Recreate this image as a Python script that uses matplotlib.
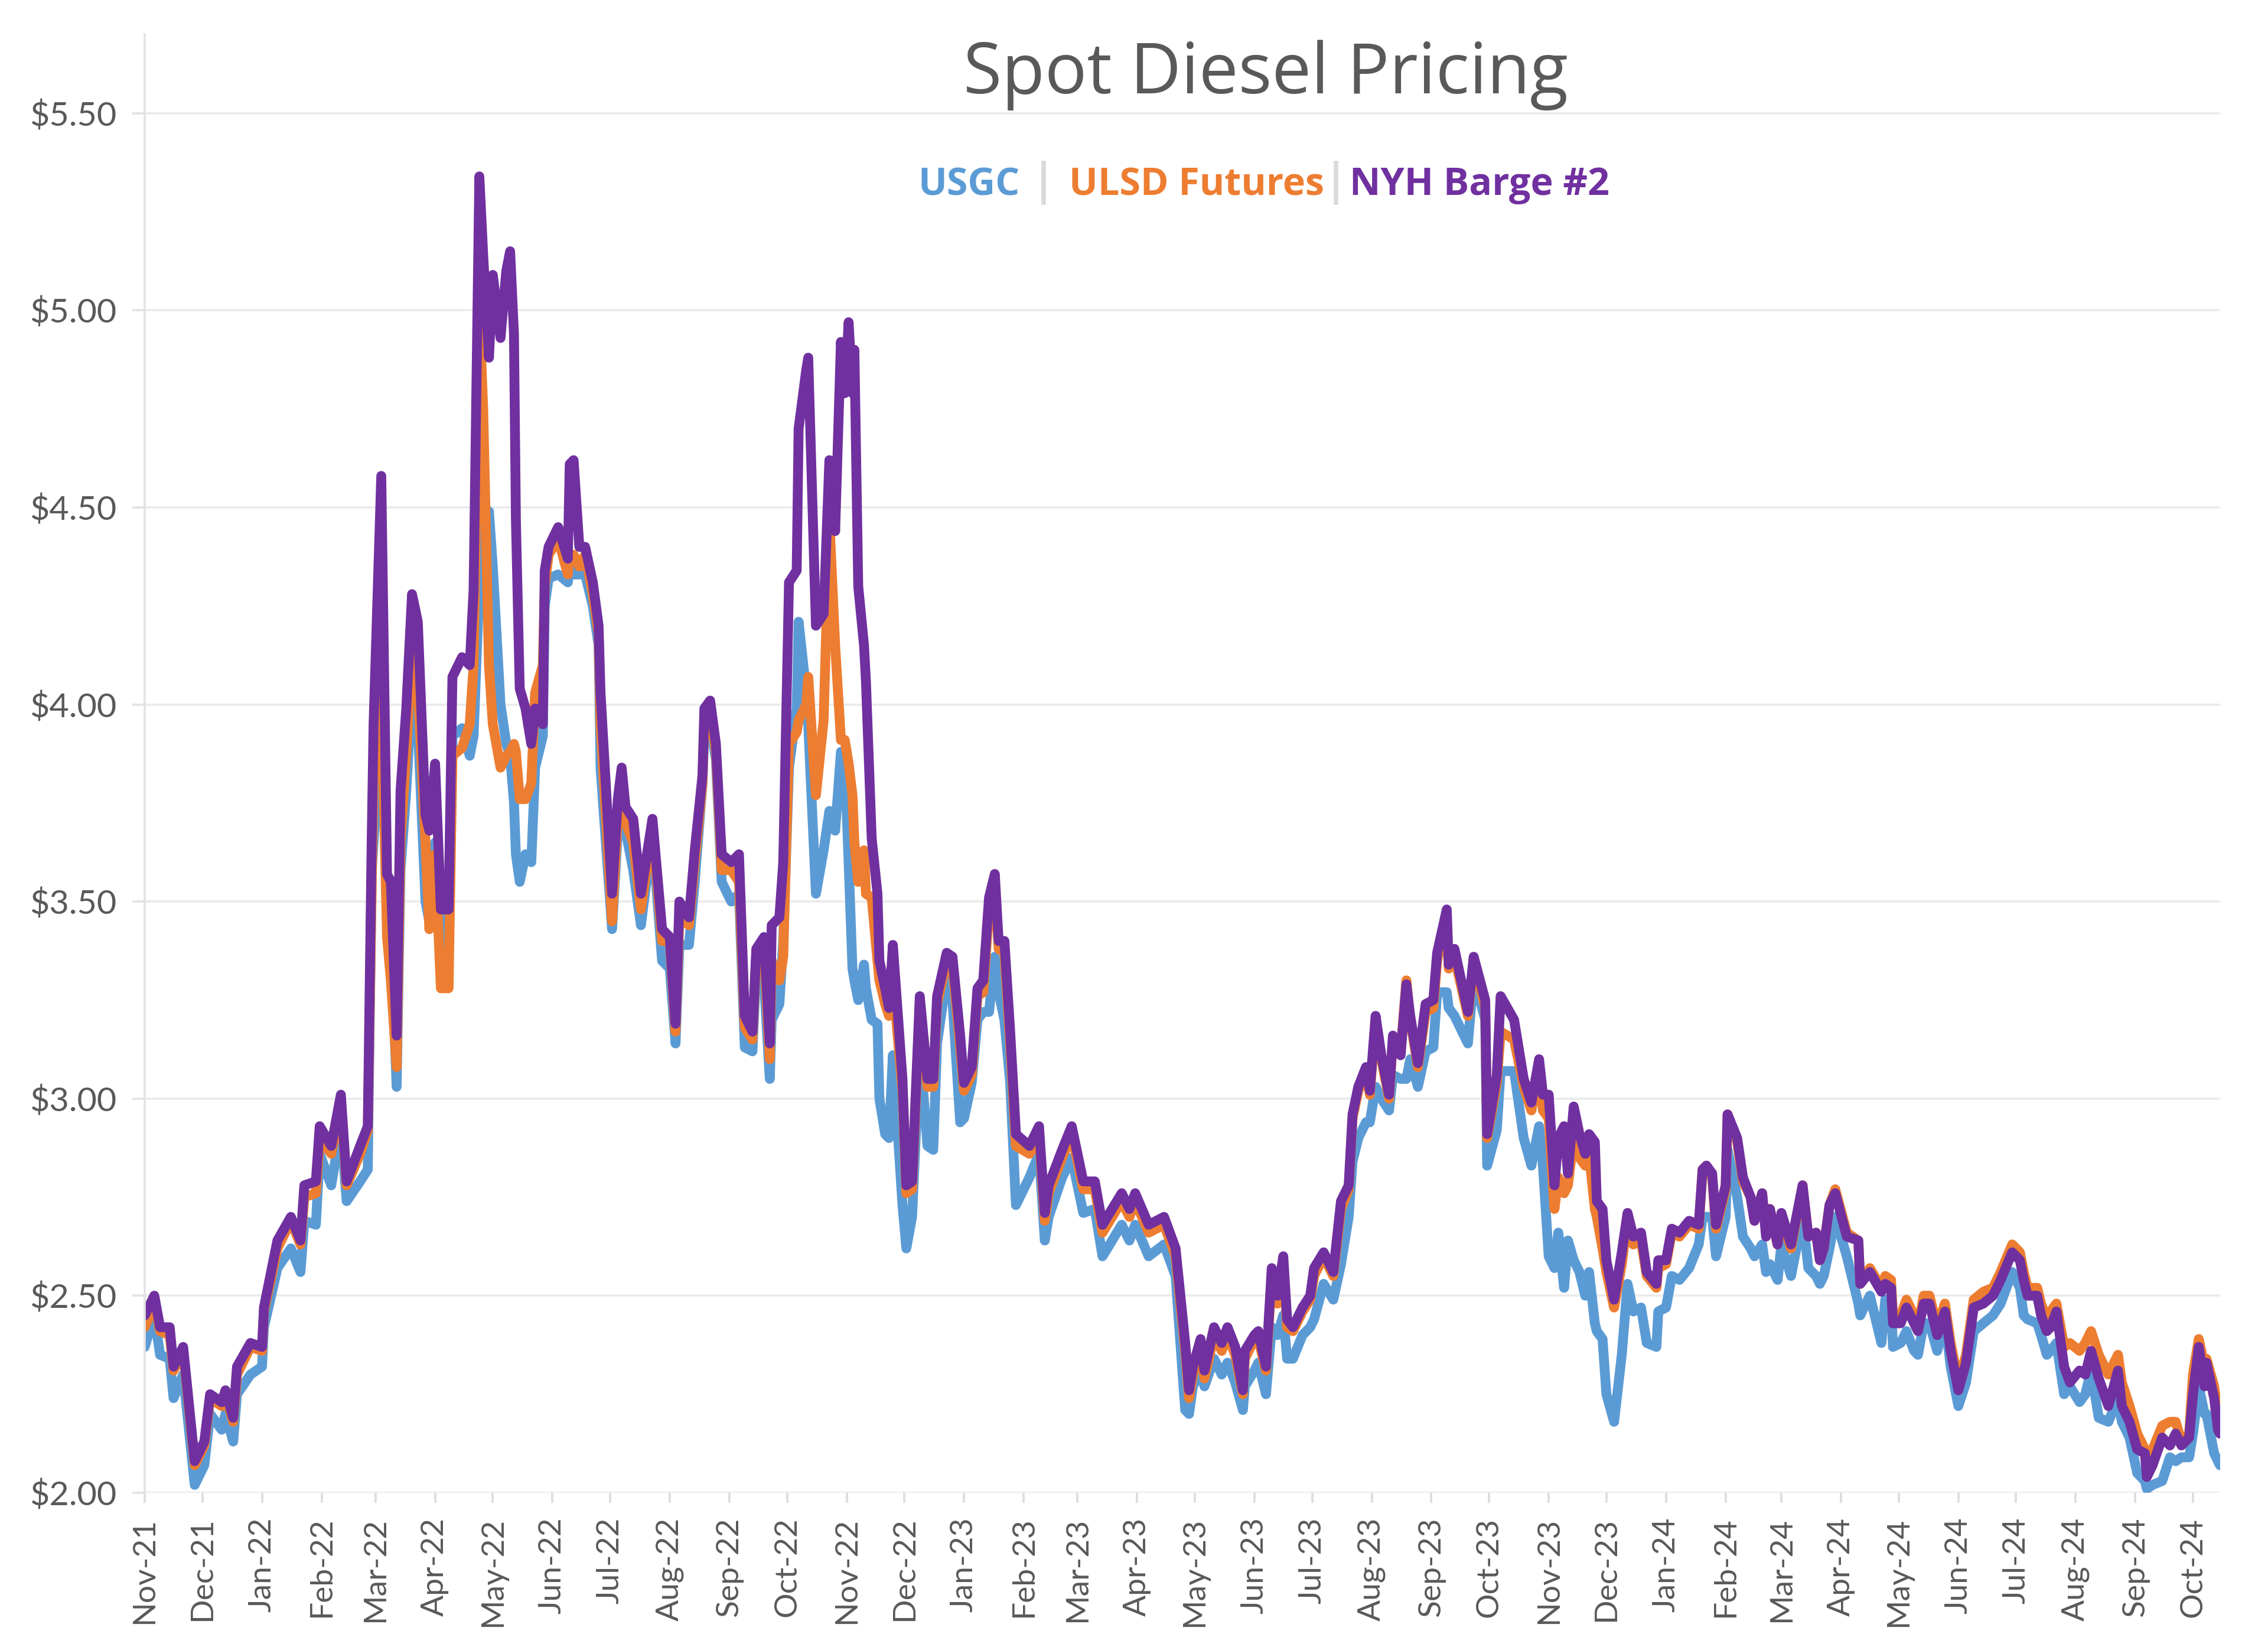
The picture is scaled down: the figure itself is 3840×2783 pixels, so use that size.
import matplotlib
matplotlib.use("Agg")
import matplotlib.pyplot as plt
import matplotlib.dates as mdates
from matplotlib.lines import Line2D
import numpy as np
import pandas as pd

# days counted from 1 Nov 2021, values in $/gal
start = pd.Timestamp("2021-11-01")

day = [0, 5, 8, 13, 15, 20, 26, 31, 34, 40,
       42, 46, 48, 55, 61, 62, 69, 76, 81, 83,
       89, 91, 97, 102, 105, 112, 116, 118, 119, 123,
       126, 128, 131, 133, 136, 139, 142, 146, 148, 151,
       154, 158, 160, 165, 169, 171,
       # May 2022 - Apr 2023
       174, 176, 179, 181, 185, 188, 190, 192, 193, 195,
       198, 201, 203, 207, 208, 210, 215, 220, 221, 223,
       226, 229, 233, 236, 237, 243, 246, 248, 250, 254,
       258, 264, 269, 273, 276, 278, 283, 286, 290, 291,
       294, 297, 300, 305, 309, 312, 316, 318, 322, 325,
       326, 330, 332, 335, 339, 340, 344, 345, 349, 353,
       356, 359, 362, 364, 366, 368, 369, 371, 374, 375,
       378, 381, 382, 385, 387, 389, 394, 396, 399, 403,
       407, 410, 412, 417, 420, 424, 426, 430, 433, 436,
       439, 442, 444, 447, 450, 453, 460, 465, 468, 470,
       477, 482, 488, 494, 498, 508, 512, 515, 522, 530,
       536,
       # late Apr 2023 - Oct 2023
       541, 543, 545, 549, 551, 556, 560, 563, 567, 571,
       572, 577, 579, 583, 586, 589, 592, 594, 597, 602,
       606, 608, 613, 618, 622, 626, 628, 631, 635, 637,
       640, 643, 647, 649, 653, 656, 658, 662, 666, 670,
       672, 677, 678, 681, 688, 691, 697, 698, 703, 705,
       712, 717, 721,
       # late Oct 2023 - Apr 2024
       725, 727, 730, 733, 735, 738, 740, 743, 746, 749,
       751, 754, 755, 758, 760, 764, 768, 771, 774, 778,
       781, 786, 787, 791, 794, 798, 803, 808, 810, 812,
       815, 817, 822, 823, 828, 831, 835, 837, 841, 843,
       845, 849, 851, 856, 862, 865, 869, 871, 873, 876,
       879, 885, 891, 892, 897, 903,
       # late Apr 2024 - Oct 2024
       905, 908, 909, 913, 916, 920, 922, 925, 928, 932,
       936, 939, 943, 947, 951, 956, 961, 965, 971, 975,
       977, 979, 984, 986, 989, 991, 994, 998, 1001, 1006,
       1009, 1012, 1016, 1021, 1026, 1028, 1032, 1036, 1040, 1041,
       1044, 1049, 1053, 1056, 1059, 1063, 1065, 1068, 1071, 1072,
       1076, 1078, 1079]

usgc = [2.37, 2.45, 2.35, 2.34, 2.24, 2.30, 2.02, 2.07, 2.20, 2.16,
        2.20, 2.13, 2.25, 2.30, 2.32, 2.42, 2.57, 2.62, 2.56, 2.69,
        2.68, 2.86, 2.78, 2.93, 2.74, 2.79, 2.82, 3.58, 3.65, 3.98,
        3.45, 3.41, 3.03, 3.58, 3.78, 4.04, 3.95, 3.50, 3.45, 3.65,
        3.45, 3.36, 3.92, 3.94, 3.87, 3.92,
        4.30, 4.45, 4.49, 4.35, 4.00, 3.90, 3.87, 3.75, 3.62, 3.55,
        3.62, 3.60, 3.84, 3.92, 4.25, 4.32, 4.33, 4.31, 4.35, 4.33,
        4.33, 4.33, 4.25, 4.15, 3.84, 3.43, 3.68, 3.73, 3.68, 3.58,
        3.44, 3.67, 3.35, 3.33, 3.14, 3.39, 3.39, 3.55, 3.80, 3.93,
        3.95, 3.86, 3.55, 3.50, 3.52, 3.13, 3.12, 3.33, 3.30, 3.05,
        3.20, 3.24, 3.40, 3.84, 3.99, 4.21, 4.03, 3.95, 3.52, 3.63,
        3.73, 3.68, 3.88, 3.86, 3.60, 3.33, 3.30, 3.25, 3.34, 3.28,
        3.20, 3.19, 3.00, 2.91, 2.90, 3.11, 2.73, 2.62, 2.70, 3.13,
        2.88, 2.87, 3.14, 3.31, 3.25, 2.94, 2.95, 3.04, 3.20, 3.22,
        3.22, 3.36, 3.27, 3.20, 3.04, 2.73, 2.80, 2.86, 2.64, 2.70,
        2.80, 2.85, 2.71, 2.72, 2.60, 2.68, 2.64, 2.68, 2.60, 2.63,
        2.55,
        2.21, 2.20, 2.27, 2.31, 2.27, 2.34, 2.30, 2.33, 2.28, 2.21,
        2.27, 2.31, 2.33, 2.25, 2.42, 2.40, 2.45, 2.34, 2.34, 2.40,
        2.42, 2.44, 2.53, 2.49, 2.58, 2.70, 2.84, 2.90, 2.94, 2.94,
        3.03, 3.00, 2.97, 3.06, 3.05, 3.05, 3.10, 3.03, 3.12, 3.13,
        3.27, 3.27, 3.23, 3.21, 3.14, 3.31, 3.20, 2.83, 2.92, 3.07,
        3.07, 2.90, 2.83,
        2.93, 2.83, 2.60, 2.57, 2.66, 2.52, 2.64, 2.59, 2.56, 2.50,
        2.56, 2.43, 2.41, 2.39, 2.25, 2.18, 2.35, 2.53, 2.46, 2.47,
        2.38, 2.37, 2.46, 2.47, 2.55, 2.54, 2.57, 2.63, 2.70, 2.70,
        2.70, 2.60, 2.70, 2.87, 2.75, 2.65, 2.62, 2.60, 2.63, 2.56,
        2.58, 2.54, 2.63, 2.55, 2.70, 2.57, 2.55, 2.53, 2.55, 2.62,
        2.70, 2.60, 2.48, 2.45, 2.50, 2.38,
        2.49, 2.48, 2.37, 2.38, 2.41, 2.36, 2.35, 2.43, 2.43, 2.36,
        2.44, 2.32, 2.22, 2.28, 2.41, 2.43, 2.45, 2.48, 2.56, 2.52,
        2.45, 2.44, 2.43, 2.40, 2.35, 2.36, 2.38, 2.25, 2.27, 2.23,
        2.25, 2.31, 2.19, 2.18, 2.24, 2.18, 2.14, 2.05, 2.03, 2.01,
        2.02, 2.03, 2.09, 2.08, 2.09, 2.09, 2.15, 2.27, 2.20, 2.20,
        2.10, 2.08, 2.07]

ulsd = [2.42, 2.48, 2.41, 2.40, 2.31, 2.36, 2.07, 2.12, 2.24, 2.22,
        2.25, 2.18, 2.30, 2.37, 2.36, 2.46, 2.62, 2.69, 2.63, 2.75,
        2.76, 2.90, 2.86, 2.99, 2.78, 2.86, 2.92, 3.52, 3.83, 4.05,
        3.41, 3.30, 3.08, 3.65, 3.88, 4.15, 4.05, 3.65, 3.43, 3.62,
        3.28, 3.28, 3.87, 3.89, 3.95, 4.10,
        5.00, 4.75, 4.10, 3.95, 3.84, 3.87, 3.88, 3.90, 3.88, 3.76,
        3.76, 3.80, 4.03, 4.10, 4.30, 4.38, 4.42, 4.33, 4.38, 4.38,
        4.35, 4.38, 4.28, 4.18, 3.95, 3.45, 3.72, 3.78, 3.70, 3.65,
        3.48, 3.69, 3.40, 3.40, 3.17, 3.46, 3.44, 3.60, 3.80, 3.97,
        3.98, 3.88, 3.58, 3.58, 3.55, 3.18, 3.15, 3.37, 3.38, 3.10,
        3.35, 3.30, 3.36, 3.90, 3.93, 3.96, 4.00, 4.07, 3.77, 3.96,
        4.47, 4.15, 3.91, 3.91, 3.85, 3.77, 3.65, 3.55, 3.63, 3.52,
        3.51, 3.35, 3.30, 3.24, 3.21, 3.30, 3.02, 2.76, 2.77, 3.24,
        3.03, 3.03, 3.24, 3.35, 3.34, 3.13, 3.02, 3.06, 3.26, 3.27,
        3.48, 3.54, 3.38, 3.37, 3.14, 2.88, 2.86, 2.91, 2.69, 2.76,
        2.85, 2.91, 2.77, 2.77, 2.66, 2.74, 2.70, 2.74, 2.66, 2.68,
        2.60,
        2.36, 2.24, 2.30, 2.37, 2.29, 2.40, 2.36, 2.40, 2.35, 2.25,
        2.34, 2.39, 2.39, 2.31, 2.55, 2.48, 2.58, 2.42, 2.41, 2.46,
        2.49, 2.55, 2.60, 2.55, 2.72, 2.77, 2.95, 3.02, 3.07, 3.01,
        3.20, 3.10, 3.00, 3.15, 3.12, 3.30, 3.20, 3.08, 3.22, 3.23,
        3.35, 3.46, 3.33, 3.36, 3.21, 3.35, 3.23, 2.90, 3.04, 3.17,
        3.15, 3.03, 2.97,
        3.07, 2.97, 2.95, 2.72, 2.80, 2.76, 2.78, 2.90, 2.85, 2.83,
        2.86, 2.72, 2.70, 2.62, 2.56, 2.47, 2.58, 2.70, 2.63, 2.64,
        2.55, 2.52, 2.57, 2.58, 2.66, 2.65, 2.68, 2.67, 2.82, 2.83,
        2.80, 2.67, 2.77, 2.96, 2.89, 2.79, 2.75, 2.69, 2.76, 2.66,
        2.72, 2.63, 2.70, 2.62, 2.78, 2.65, 2.66, 2.59, 2.62, 2.73,
        2.77, 2.66, 2.64, 2.53, 2.57, 2.52,
        2.55, 2.54, 2.45, 2.45, 2.49, 2.45, 2.42, 2.50, 2.50, 2.42,
        2.48, 2.38, 2.28, 2.35, 2.49, 2.51, 2.52, 2.56, 2.63, 2.61,
        2.56, 2.52, 2.52, 2.48, 2.44, 2.46, 2.48, 2.37, 2.38, 2.36,
        2.38, 2.41, 2.35, 2.30, 2.35, 2.28, 2.22, 2.15, 2.11, 2.09,
        2.11, 2.17, 2.18, 2.18, 2.13, 2.15, 2.30, 2.39, 2.32, 2.34,
        2.27, 2.20, 2.19]

nyh = [2.45, 2.50, 2.42, 2.42, 2.32, 2.37, 2.08, 2.13, 2.25, 2.23,
       2.26, 2.19, 2.32, 2.38, 2.37, 2.47, 2.64, 2.70, 2.64, 2.78,
       2.79, 2.93, 2.88, 3.01, 2.79, 2.88, 2.93, 3.65, 3.95, 4.58,
       3.57, 3.55, 3.16, 3.78, 3.99, 4.28, 4.21, 3.72, 3.68, 3.85,
       3.48, 3.48, 4.07, 4.12, 4.10, 4.29,
       5.34, 5.14, 4.88, 5.09, 4.93, 5.10, 5.15, 4.94, 4.47, 4.04,
       3.99, 3.90, 3.99, 3.95, 4.34, 4.40, 4.45, 4.37, 4.61, 4.62,
       4.40, 4.40, 4.31, 4.20, 4.03, 3.52, 3.76, 3.84, 3.74, 3.71,
       3.52, 3.71, 3.43, 3.41, 3.19, 3.50, 3.46, 3.63, 3.82, 3.99,
       4.01, 3.90, 3.62, 3.60, 3.62, 3.21, 3.17, 3.38, 3.41, 3.14,
       3.44, 3.46, 3.60, 4.31, 4.34, 4.70, 4.85, 4.88, 4.20, 4.23,
       4.62, 4.44, 4.92, 4.79, 4.97, 4.79, 4.90, 4.30, 4.15, 4.06,
       3.66, 3.52, 3.35, 3.28, 3.23, 3.39, 3.05, 2.78, 2.79, 3.26,
       3.05, 3.05, 3.26, 3.37, 3.36, 3.16, 3.04, 3.08, 3.28, 3.30,
       3.51, 3.57, 3.40, 3.40, 3.17, 2.91, 2.88, 2.93, 2.71, 2.78,
       2.87, 2.93, 2.79, 2.79, 2.68, 2.76, 2.72, 2.76, 2.68, 2.70,
       2.62,
       2.38, 2.26, 2.32, 2.39, 2.31, 2.42, 2.38, 2.42, 2.37, 2.26,
       2.36, 2.40, 2.41, 2.32, 2.57, 2.50, 2.60, 2.44, 2.42, 2.47,
       2.50, 2.57, 2.61, 2.56, 2.74, 2.78, 2.96, 3.03, 3.08, 3.02,
       3.21, 3.11, 3.01, 3.16, 3.11, 3.29, 3.21, 3.09, 3.24, 3.25,
       3.37, 3.48, 3.34, 3.38, 3.22, 3.36, 3.25, 2.91, 3.06, 3.26,
       3.20, 3.05, 2.99,
       3.10, 3.01, 3.01, 2.78, 2.90, 2.93, 2.81, 2.98, 2.91, 2.86,
       2.91, 2.89, 2.74, 2.72, 2.59, 2.49, 2.61, 2.71, 2.65, 2.66,
       2.56, 2.53, 2.59, 2.59, 2.67, 2.66, 2.69, 2.68, 2.82, 2.83,
       2.81, 2.68, 2.78, 2.96, 2.90, 2.80, 2.75, 2.69, 2.76, 2.65,
       2.72, 2.63, 2.71, 2.63, 2.78, 2.65, 2.66, 2.59, 2.62, 2.73,
       2.76, 2.65, 2.64, 2.53, 2.56, 2.51,
       2.53, 2.52, 2.43, 2.43, 2.47, 2.43, 2.41, 2.48, 2.48, 2.40,
       2.46, 2.36, 2.26, 2.33, 2.47, 2.48, 2.50, 2.54, 2.61, 2.59,
       2.54, 2.50, 2.50, 2.45, 2.41, 2.42, 2.46, 2.32, 2.28, 2.31,
       2.30, 2.36, 2.29, 2.22, 2.31, 2.22, 2.18, 2.11, 2.10, 2.04,
       2.07, 2.14, 2.12, 2.15, 2.12, 2.14, 2.25, 2.37, 2.27, 2.33,
       2.24, 2.16, 2.15]

series = ["USGC", "ULSD Futures", "NYH Barge #2"]
colors = ["#5B9BD5", "#ED7D31", "#7030A0"]

dates = start + pd.to_timedelta(day, unit="D")

tick_font = ["Lato", "DejaVu Sans"]
grey = "#595959"

fig = plt.figure(figsize=(12.8, 9.2767), dpi=300)
ax = fig.add_axes([0.0638, 0.092, 0.915, 0.887])

for vals, c in zip([usgc, ulsd, nyh], colors):
    ax.plot(dates, vals, color=c, lw=4.0, solid_joinstyle="round", solid_capstyle="round")

ax.set_xlim(start, start + pd.Timedelta(days=1079))
ax.set_ylim(2.0, 5.70)
ax.set_yticks(np.arange(2.0, 5.51, 0.5))
ax.yaxis.set_major_formatter(lambda v, p: f"${v:.2f}")
ax.xaxis.set_major_locator(mdates.MonthLocator())
ax.xaxis.set_major_formatter(mdates.DateFormatter("%b-%y"))

ax.set_axisbelow(True)
ax.grid(axis="y", color="#EBEBEB", lw=0.9)
for s in ["top", "right", "bottom"]:
    ax.spines[s].set_visible(False)
ax.spines["left"].set_color("#E3E3E3")
ax.spines["left"].set_linewidth(0.9)

ax.tick_params(axis="x", rotation=90, colors="#DDDDDD", labelcolor=grey,
               length=4, width=0.9, pad=6, labelsize=12.8)
ax.tick_params(axis="y", colors="#E3E3E3", labelcolor=grey,
               length=5, width=0.9, pad=6.5, labelsize=13.8)
for lab in ax.get_xticklabels() + ax.get_yticklabels():
    lab.set_family(tick_font)

fig.text(0.558, 0.9432, "Spot Diesel Pricing", ha="center", va="baseline",
         fontsize=28.5, color=grey, family=["Open Sans", "DejaVu Sans"])

# coloured legend line under the title
leg_x = [0.4049, 0.4714, 0.5951]
for x, name, c in zip(leg_x, series, colors):
    fig.text(x, 0.8814, name, ha="left", va="baseline", fontsize=15.5,
             color=c, fontweight="bold", family=["Open Sans", "DejaVu Sans"])
for x in [0.4602, 0.5891]:
    fig.add_artist(Line2D([x, x], [0.8768, 0.9008], transform=fig.transFigure,
                          color="#D9D9D9", lw=1.8))

fig.savefig("out.png", dpi=300)
